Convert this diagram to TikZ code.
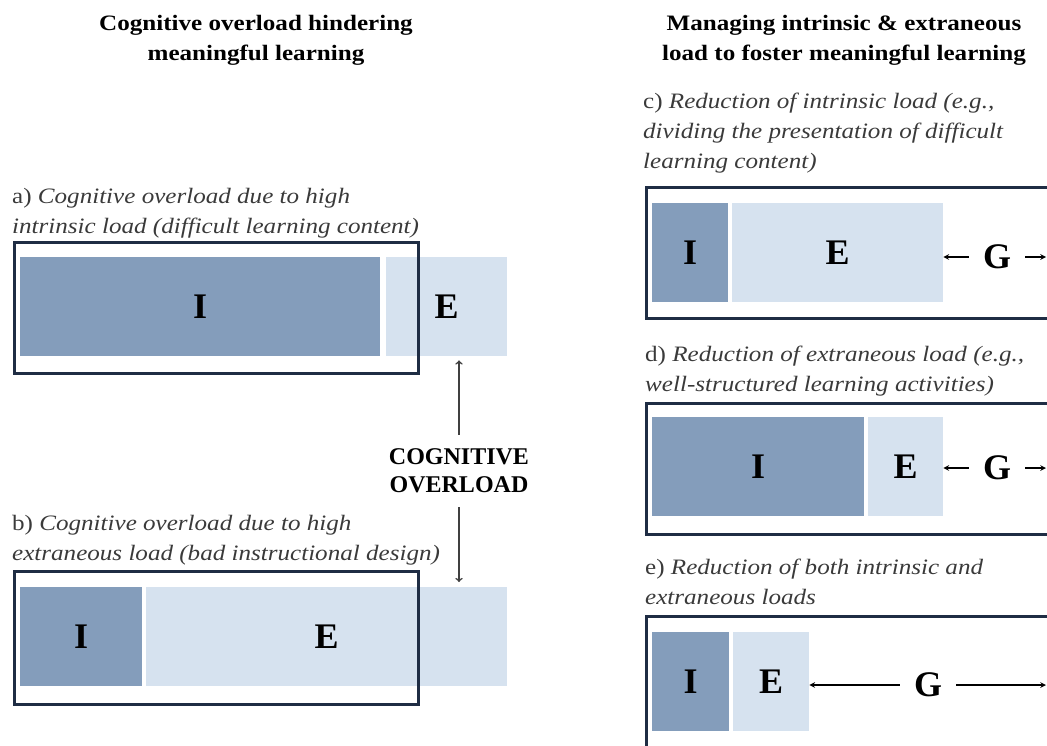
\documentclass[tikz,border=0pt]{standalone}
\usepackage{fontspec}
\setmainfont{Liberation Serif}
\newfontfamily\widefont{Liberation Serif}[FakeStretch=1.14]
\usetikzlibrary{positioning}

\definecolor{ibarblue}{HTML}{849DBB}
\definecolor{ebarblue}{HTML}{D6E2EF}
\definecolor{framenavy}{HTML}{1F2D44}
\definecolor{txtgray}{HTML}{3A3A3A}
\definecolor{arrowgray}{HTML}{404040}

\begin{document}
\begin{tikzpicture}[x=1pt, y=-1pt,
  txt/.style = {font=\widefont\fontsize{22}{30}\selectfont\itshape, text=txtgray,
                align=left, anchor=north west, inner sep=0pt},
  ttl/.style = {font=\widefont\fontsize{22}{30}\selectfont\bfseries,
                align=center, anchor=north, inner sep=0pt},
  ibar/.style = {rectangle, fill=ibarblue, minimum height=99pt,
                 anchor=north west, inner sep=0pt,
                 font=\fontsize{36}{40}\selectfont\bfseries},
  ebar/.style = {ibar, fill=ebarblue},
  frame/.style = {rectangle, draw=framenavy, line width=2.5pt,
                  anchor=north west, inner sep=0pt},
  gload/.style = {font=\fontsize{36}{40}\selectfont\bfseries,
                  inner xsep=14pt, inner ysep=0pt},
  garrow/.style = {line width=1.5pt, -stealth},
  oarrow/.style = {line width=1.6pt, draw=arrowgray, -to}
                    ]
\clip (0,0) rectangle (1047,745);
% titles
\node (ttlL) [ttl] at (256,15) {Cognitive overload hindering\\meaningful learning};
\node (ttlR) [ttl] at (844,15) {Managing intrinsic \& extraneous\\load to foster meaningful learning};

% left: a)
\node (txtA) [txt] at (12,188) {{\upshape a)} Cognitive overload due to high\\intrinsic load (difficult learning content)};
\node (aI) [ibar, minimum width=360pt] at (20,257) {I};
\node (aE) [ebar, minimum width=121pt] at (386,257) {E};
\node (aFrame) [frame, minimum width=404pt, minimum height=131pt] at (13,241) {};

% left: b)
\node (txtB) [txt] at (12,515) {{\upshape b)} Cognitive overload due to high\\extraneous load (bad instructional design)};
\node (bI) [ibar, minimum width=122pt] at (20,587) {I};
\node (bE) [ebar, minimum width=361pt] at (146,587) {E};
\node (bFrame) [frame, minimum width=404pt, minimum height=133pt] at (13,570) {};

% overload
\node (ovl) [font=\fontsize{24}{28}\selectfont\bfseries, align=center,
             inner xsep=0pt, inner ysep=14pt] at (459,471) {COGNITIVE\\OVERLOAD};
\draw [oarrow, shorten >=4pt] (ovl.north) -- (ovl.north |- aE.south);
\draw [oarrow, shorten >=5pt] (ovl.south) -- (ovl.south |- bE.north);

% right: c)
\node (txtC) [txt] at (643,93) {{\upshape c)} Reduction of intrinsic load (e.g.,\\dividing the presentation of difficult\\learning content)};
\node (cI) [ibar, minimum width=76pt] at (652,203) {I};
\node (cE) [ebar, minimum width=211pt] at (732,203) {E};
\node (cFrame) [frame, minimum width=440pt, minimum height=131pt] at (645,186) {};
\node (cG) [gload] at (997,257) {G};
\coordinate (cEnd) at (1046,257);
\draw [garrow] (cG) -- (cG -| cE.east);
\draw [garrow] (cG) -- (cEnd);

% right: d)
\node (txtD) [txt] at (645,346) {{\upshape d)} Reduction of extraneous load (e.g.,\\well-structured learning activities)};
\node (dI) [ibar, minimum width=212pt] at (652,417) {I};
\node (dE) [ebar, minimum width=75pt] at (868,417) {E};
\node (dFrame) [frame, minimum width=440pt, minimum height=131pt] at (645,402) {};
\node (dG) [gload] at (997,468) {G};
\coordinate (dEnd) at (1046,468);
\draw [garrow] (dG) -- (dG -| dE.east);
\draw [garrow] (dG) -- (dEnd);

% right: e)
\node (txtE) [txt] at (645,559) {{\upshape e)} Reduction of both intrinsic and\\extraneous loads};
\node (eI) [ibar, minimum width=77pt] at (652,632) {I};
\node (eE) [ebar, minimum width=76pt] at (733,632) {E};
\node (eFrame) [frame, minimum width=440pt, minimum height=170pt] at (645,615) {};
\node (eG) [gload] at (928,685) {G};
\coordinate (eEnd) at (1046,685);
\draw [garrow] (eG) -- (eG -| eE.east);
\draw [garrow] (eG) -- (eEnd);
\end{tikzpicture}
\end{document}
